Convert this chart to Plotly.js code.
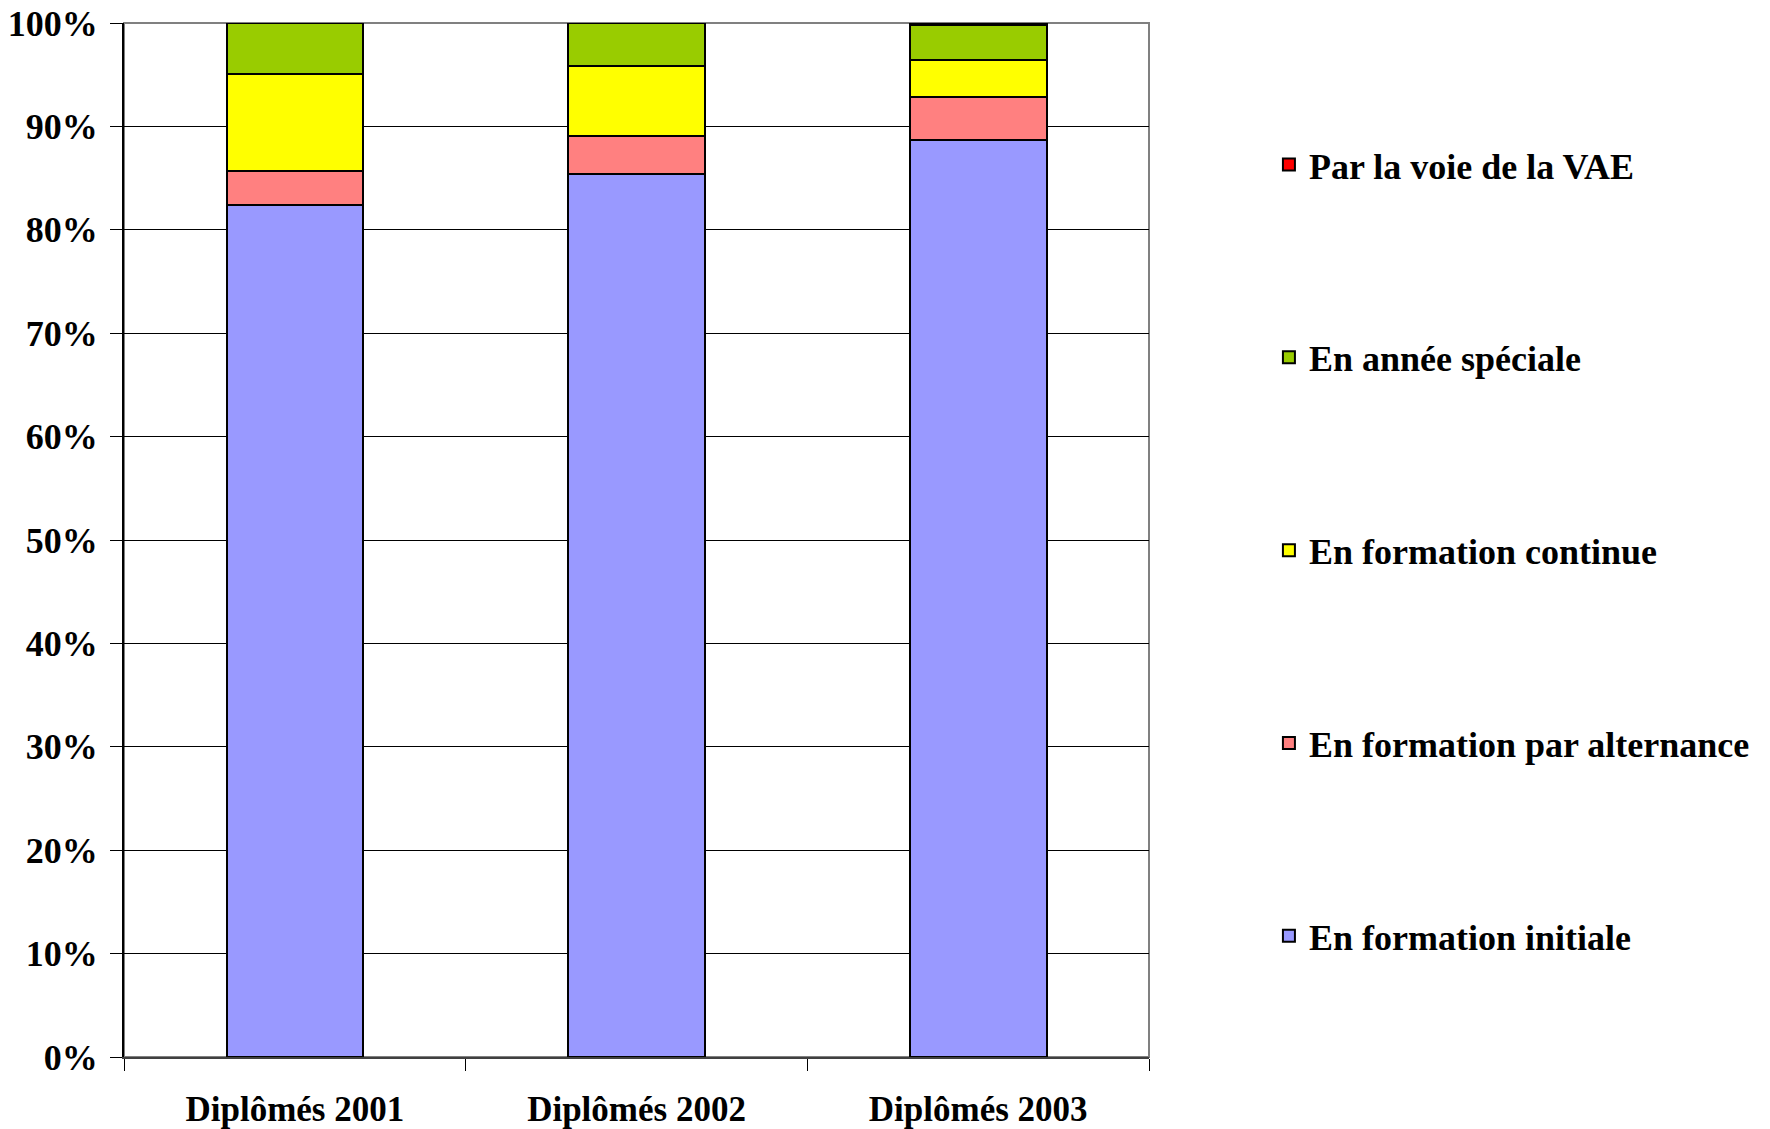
<!DOCTYPE html>
<html>
<head>
<meta charset="utf-8">
<script src="https://cdn.plot.ly/plotly-3.0.1.min.js"></script>
<style>html,body{margin:0;padding:0;background:#fff;}#chart{width:1770px;height:1129px;}</style>
</head>
<body>
<div id="chart"></div>
<script>
const categories = ["Diplômés 2001", "Diplômés 2002", "Diplômés 2003"];
const initiale = [82.4, 85.4, 88.7];
const alternance = [3.3, 3.7, 4.1];
const continue_ = [9.4, 6.7, 3.6];
const speciale = [4.9, 4.2, 3.4];
const vae = [0.0, 0.0, 0.2];
const yTickVals = [0, 10, 20, 30, 40, 50, 60, 70, 80, 90, 100];
const yTickText = ["0%", "10%", "20%", "30%", "40%", "50%", "60%", "70%", "80%", "90%", "100%"];

const seriesNames = ["En formation initiale", "En formation par alternance", "En formation continue", "En année spéciale", "Par la voie de la VAE"];
const seriesValues = [initiale, alternance, continue_, speciale, vae];
const seriesColors = ["#9999FF", "#FF8080", "#FFFF00", "#99CC00", "#FF0000"];

const font = "Liberation Serif";

const traces = seriesNames.map((n, i) => ({
  type: "bar",
  name: "<b>" + n + "</b>",
  x: categories,
  y: seriesValues[i],
  legendgroup: "g" + i,
  legendrank: 1000 - i,
  marker: {color: seriesColors[i], line: {color: "#000000", width: 2}},
  hoverinfo: "x+y+name"
}));

const layout = {
  width: 1770, height: 1129,
  margin: {l: 124, r: 621, t: 23, b: 72},
  paper_bgcolor: "#ffffff",
  plot_bgcolor: "#ffffff",
  barmode: "stack",
  bargap: 0.6,
  font: {family: font, size: 34, color: "#000000"},
  xaxis: {
    type: "category",
    tickson: "boundaries",
    ticks: "outside",
    ticklen: 12,
    tickcolor: "#000000",
    tickwidth: 1,
    showgrid: false,
    showline: true,
    linecolor: "#404040",
    linewidth: 2,
    ticklabelstandoff: 20,
    tickmode: "array",
    tickvals: categories,
    ticktext: categories.map(c => "<b>" + c + "</b>"),
    tickfont: {family: font, size: 35, color: "#000000"}
  },
  yaxis: {
    range: [0, 100],
    tickvals: yTickVals,
    ticktext: yTickText.map(t => "<b>" + t + "</b>"),
    ticks: "outside",
    ticklen: 12,
    tickcolor: "#000000",
    tickwidth: 1,
    showgrid: true,
    gridcolor: "#000000",
    gridwidth: 1,
    showline: true,
    linecolor: "#000000",
    linewidth: 2,
    zeroline: false,
    ticklabelstandoff: 5,
    tickfont: {family: font, size: 36, color: "#000000"}
  },
  shapes: [{
    type: "rect", xref: "paper", yref: "paper", x0: 0, x1: 1, y0: 0, y1: 1,
    line: {color: "#808080", width: 2}, layer: "below"
  }],
  legend: {
    x: 1.117, xanchor: "left",
    y: 0.892, yanchor: "top",
    traceorder: "grouped",
    tracegroupgap: 143,
    font: {family: font, size: 36, color: "#000000"},
    bgcolor: "rgba(0,0,0,0)",
    borderwidth: 0
  },
  showlegend: true
};

Plotly.newPlot("chart", traces, layout, {displayModeBar: false, staticPlot: true});
</script>
</body>
</html>
